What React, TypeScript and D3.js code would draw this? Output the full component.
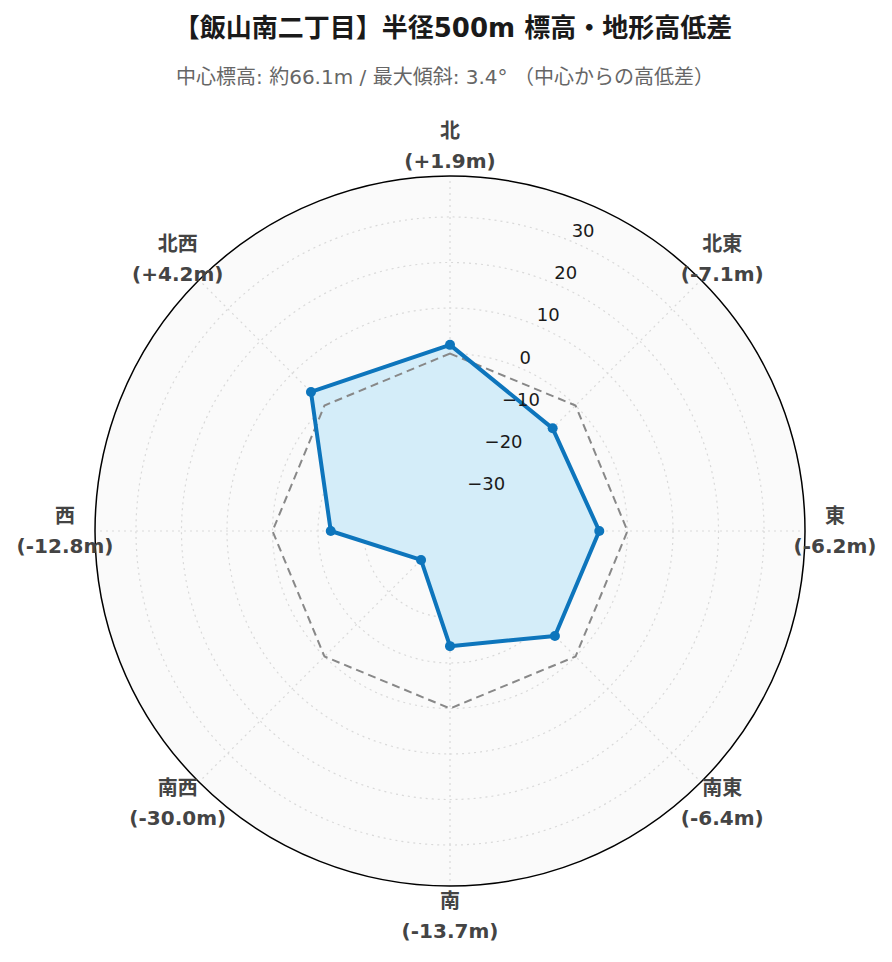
import React from "react";
import * as d3 from "d3";

const directions = ["北", "北東", "東", "南東", "南", "南西", "西", "北西"];
const diffs = [1.9, -7.1, -6.2, -6.4, -13.7, -30.0, -12.8, 4.2];
const radialTicks = [-30, -20, -10, 0, 10, 20, 30];
const radialDomain = [-39, 39];
const titleText = "【飯山南二丁目】半径500m 標高・地形高低差";
const subtitleText = "中心標高: 約66.1m / 最大傾斜: 3.4° （中心からの高低差）";

const W = 892;
const H = 962;
const cx = 450;
const cy = 531;
const R = 355;
const FONT = "'DejaVu Sans', 'Noto Sans CJK JP', sans-serif";

function fmt(v: number) {
  return `(${v >= 0 ? "+" : ""}${v.toFixed(1)}m)`;
}

export default function App() {
  const r = d3.scaleLinear().domain(radialDomain).range([0, R]);
  const ang = d3
    .scaleLinear()
    .domain([0, directions.length])
    .range([0, 2 * Math.PI]);
  const pt = (i: number, v: number): [number, number] => {
    const a = ang(i);
    const rr = r(v);
    return [cx + rr * Math.sin(a), cy - rr * Math.cos(a)];
  };
  const line = d3.line<[number, number]>().curve(d3.curveLinearClosed);
  const dataPts = diffs.map((v, i) => pt(i, v));
  const zeroPts = diffs.map((_, i) => pt(i, 0));
  const axisAngle = Math.PI / 8;

  return (
    <svg width={W} height={H} style={{ display: "block", position: "absolute", left: 0, top: 0 }}>
      <rect width={W} height={H} fill="#ffffff" />
      <text x={453} y={28} dominantBaseline="central" textAnchor="middle" fontFamily={FONT} fontWeight="bold" fontSize={26} fill="#1a1a1a">
        {titleText}
      </text>
      <text x={445} y={77} dominantBaseline="central" textAnchor="middle" fontFamily={FONT} fontSize={20} fill="#666666">
        {subtitleText}
      </text>
      <circle cx={cx} cy={cy} r={R} fill="#fafafa" />
      {radialTicks.map((v) => (
        <circle key={v} cx={cx} cy={cy} r={r(v)} fill="none" stroke="#d9d9d9" strokeWidth={1.2} strokeDasharray="2,4" />
      ))}
      {directions.map((_, i) => {
        const [x, y] = pt(i, radialDomain[1]);
        return <line key={i} x1={cx} y1={cy} x2={x} y2={y} stroke="#d9d9d9" strokeWidth={1.2} strokeDasharray="2,4" />;
      })}
      <path d={line(dataPts) || ""} fill="#d4edf9" stroke="none" />
      <path d={line(zeroPts) || ""} fill="none" stroke="#888888" strokeWidth={2} strokeDasharray="8,5" />
      <path d={line(dataPts) || ""} fill="none" stroke="#0d75bc" strokeWidth={4} strokeLinejoin="round" />
      {dataPts.map(([x, y], i) => (
        <circle key={i} cx={x} cy={y} r={5} fill="#0d75bc" />
      ))}
      <circle cx={cx} cy={cy} r={R} fill="none" stroke="#000" strokeWidth={1.5} />
      {radialTicks.map((v) => {
        const rr = r(v);
        const x = cx + rr * Math.sin(axisAngle);
        const y = cy - rr * Math.cos(axisAngle);
        return (
          <text key={v} x={x + 1.5} y={y - 10} dominantBaseline="central" textAnchor="start" fontFamily={FONT} fontSize={18} fill="#1a1a1a">
            {v < 0 ? `\u2212${Math.abs(v)}` : `${v}`}
          </text>
        );
      })}
      {directions.map((d, i) => {
        const a = ang(i);
        const x = cx + 385 * Math.sin(a);
        const y = cy - 385 * Math.cos(a);
        return (
          <g key={d} fontFamily={FONT} fontWeight="bold" fontSize={20} fill="#444444" textAnchor="middle" dominantBaseline="central">
            <text x={x} y={y - 15}>{d}</text>
            <text x={x} y={y + 15}>{fmt(diffs[i])}</text>
          </g>
        );
      })}
    </svg>
  );
}
